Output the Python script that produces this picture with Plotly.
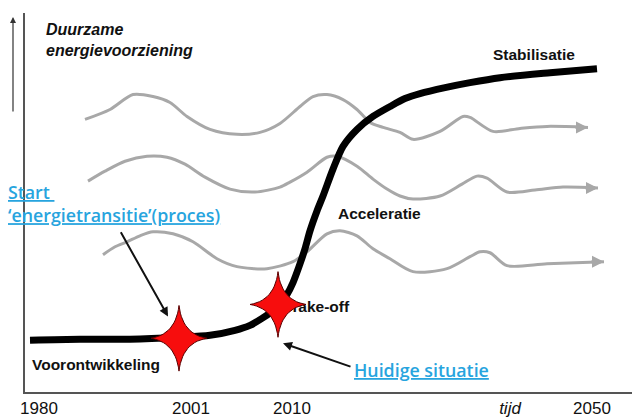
import numpy as np
import plotly.graph_objects as go

# ---- data (schematic chart units: x along time axis, y measured downward from top) ----
tick_pos = [39, 191, 292, 510, 592]
tick_labels = ["1980", "2001", "2010", "<i>tijd</i>", "2050"]

curve_x = [30, 80, 130, 179, 210, 235, 250, 262, 272, 280, 287, 293, 299, 305, 310,
           317, 323, 333, 343, 357, 373, 390, 405, 420, 445, 470, 500, 550, 597]
curve_y = [342, 341, 341, 339, 337, 332, 327, 320, 313, 306, 296, 284, 268, 250, 232,
           212, 197, 170, 147, 130, 117, 107, 99, 94, 88, 83, 78, 73, 69]

wave1_x = [85, 110, 133, 153, 170, 187, 210, 237, 260, 280, 300, 313, 327, 343, 357,
           370, 383, 400, 413, 440, 463, 470, 493, 520, 547, 588]
wave1_y = [120, 110, 95, 97, 103, 117, 130, 135, 133, 124, 107, 97, 95, 100, 110,
           123, 128, 133, 140, 132, 117, 118, 132, 129, 127, 128]

wave2_x = [88, 105, 125, 147, 167, 185, 205, 230, 255, 280, 290, 307, 327, 337, 357,
           373, 387, 400, 413, 440, 462, 477, 487, 507, 535, 563, 598]
wave2_y = [182, 172, 162, 157, 158, 165, 178, 190, 193, 188, 183, 173, 158, 157, 167,
           180, 190, 197, 200, 197, 185, 177, 179, 193, 191, 188, 189]

wave3_x = [103, 115, 127, 140, 153, 173, 193, 217, 237, 267, 293, 307, 327, 340, 357,
           373, 390, 413, 447, 470, 480, 490, 507, 547, 604]
wave3_y = [256, 248, 243, 237, 233, 235, 243, 260, 268, 270, 263, 253, 235, 232, 237,
           250, 260, 273, 270, 258, 253, 254, 267, 265, 263]

star_x = [179, 278]
star_y = [340, 306]

# ---- styling ----
GREY = "#a8a8a8"
BLUE = "#27a4de"
ARIAL = "Liberation Sans, Arial, sans-serif"
BLUEFONT = "Open Sans, DejaVu Sans, sans-serif"
X0, X1, Y_BOTTOM, Y_TOP = 25, 632, 394, 13


def star_shape(cx, cy, rx=28, ry=33, k=0.12, n=14):
    tips = [(0, -1), (1, 0), (0, 1), (-1, 0)]
    xs, ys = [], []
    for i in range(4):
        a, b = tips[i], tips[(i + 1) % 4]
        c = ((a[0] + b[0]) * k, (a[1] + b[1]) * k)
        for t in np.linspace(0, 1, n, endpoint=False):
            px = (1 - t) ** 2 * a[0] + 2 * t * (1 - t) * c[0] + t ** 2 * b[0]
            py = (1 - t) ** 2 * a[1] + 2 * t * (1 - t) * c[1] + t ** 2 * b[1]
            xs.append(cx + px * rx)
            ys.append(cy + py * ry)
    xs.append(xs[0])
    ys.append(ys[0])
    return xs, ys


fig = go.Figure()

for wx, wy in [(wave1_x, wave1_y), (wave2_x, wave2_y), (wave3_x, wave3_y)]:
    fig.add_trace(go.Scatter(x=wx, y=wy, mode="lines",
                             line=dict(color=GREY, width=3, shape="spline", smoothing=0.8),
                             hoverinfo="skip"))

fig.add_trace(go.Scatter(x=curve_x, y=curve_y, mode="lines",
                         line=dict(color="black", width=7, shape="spline", smoothing=0.8),
                         hoverinfo="skip"))

fig.add_trace(go.Scatter(x=[290], y=[310], mode="text", text=["<b>Take-off</b>"],
                         textposition="middle right",
                         textfont=dict(family=ARIAL, size=15.5, color="#111"),
                         hoverinfo="skip", cliponaxis=False))

for sx, sy in zip(star_x, star_y):
    xs, ys = star_shape(sx, sy)
    fig.add_trace(go.Scatter(x=xs, y=ys, mode="lines", fill="toself",
                             fillcolor="#f70d0d", line=dict(color="#5a0000", width=1),
                             hoverinfo="skip"))

annotations = []
# grey arrow heads
for wx, wy in [(wave1_x, wave1_y), (wave2_x, wave2_y), (wave3_x, wave3_y)]:
    annotations.append(dict(x=wx[-1], y=wy[-1], ax=wx[-1] - 14, ay=wy[-1], xref="x", yref="y",
                            axref="x", ayref="y", text="", showarrow=True, arrowhead=2,
                            arrowsize=0.8, arrowwidth=3, arrowcolor=GREY, standoff=0))

# black pointer arrows
annotations.append(dict(x=168, y=318, ax=120, ay=232, xref="x", yref="y", axref="x", ayref="y",
                        text="", showarrow=True, arrowhead=2, arrowsize=0.9, arrowwidth=2,
                        arrowcolor="#111"))
annotations.append(dict(x=283, y=345, ax=352, ay=369, xref="x", yref="y", axref="x", ayref="y",
                        text="", showarrow=True, arrowhead=2, arrowsize=0.9, arrowwidth=2,
                        arrowcolor="#111"))
# small vertical arrow at the left
annotations.append(dict(x=(13 - X0) / (X1 - X0), y=17, xref="paper", yref="y",
                        ax=0, ay=96, text="", showarrow=True, arrowhead=2, arrowsize=1,
                        arrowwidth=1.2, arrowcolor="#333"))

# texts
annotations += [
    dict(x=44, y=40, xref="x", yref="y", xanchor="left", yanchor="middle", align="left",
         text="<b><i>Duurzame<br>energievoorziening</i></b>", showarrow=False,
         font=dict(family=ARIAL, size=16, color="#111")),
    dict(x=491, y=55, xref="x", yref="y", xanchor="left", yanchor="middle",
         text="<b>Stabilisatie</b>", showarrow=False,
         font=dict(family=ARIAL, size=15.5, color="#111")),
    dict(x=336, y=215, xref="x", yref="y", xanchor="left", yanchor="middle",
         text="<b>Acceleratie</b>", showarrow=False,
         font=dict(family=ARIAL, size=15.5, color="#111")),
    dict(x=30, y=366, xref="x", yref="y", xanchor="left", yanchor="middle",
         text="<b>Voorontwikkeling</b>", showarrow=False,
         font=dict(family=ARIAL, size=15.5, color="#111")),
    dict(x=(6 - X0) / (X1 - X0), y=204, xref="paper", yref="y", xanchor="left",
         yanchor="middle", align="left",
         text="<u>Start </u><br><u>‘energietransitie’(proces)</u>", showarrow=False,
         font=dict(family=BLUEFONT, size=17.8, color=BLUE, weight=600)),
    dict(x=352, y=372, xref="x", yref="y", xanchor="left", yanchor="middle",
         text="<u>Huidige situatie</u>", showarrow=False,
         font=dict(family=BLUEFONT, size=17.8, color=BLUE, weight=600)),
]

fig.update_layout(
    width=632, height=418,
    margin=dict(l=X0, r=0, t=Y_TOP, b=418 - Y_BOTTOM),
    paper_bgcolor="white", plot_bgcolor="white",
    showlegend=False,
    annotations=annotations,
    xaxis=dict(range=[X0, X1], showgrid=False, zeroline=False, showline=True,
               linecolor="#555", linewidth=1.5, ticks="", tickvals=tick_pos,
               ticktext=tick_labels, tickfont=dict(family=ARIAL, size=17, color="#111"),
               fixedrange=True),
    yaxis=dict(range=[Y_BOTTOM, Y_TOP], showgrid=False, zeroline=False, showline=True,
               linecolor="#555", linewidth=1.5, showticklabels=False, ticks="",
               fixedrange=True),
)

fig.write_html("out.html", config={"displayModeBar": False},
               post_script="document.body.style.margin='0';document.body.style.overflow='hidden';")
